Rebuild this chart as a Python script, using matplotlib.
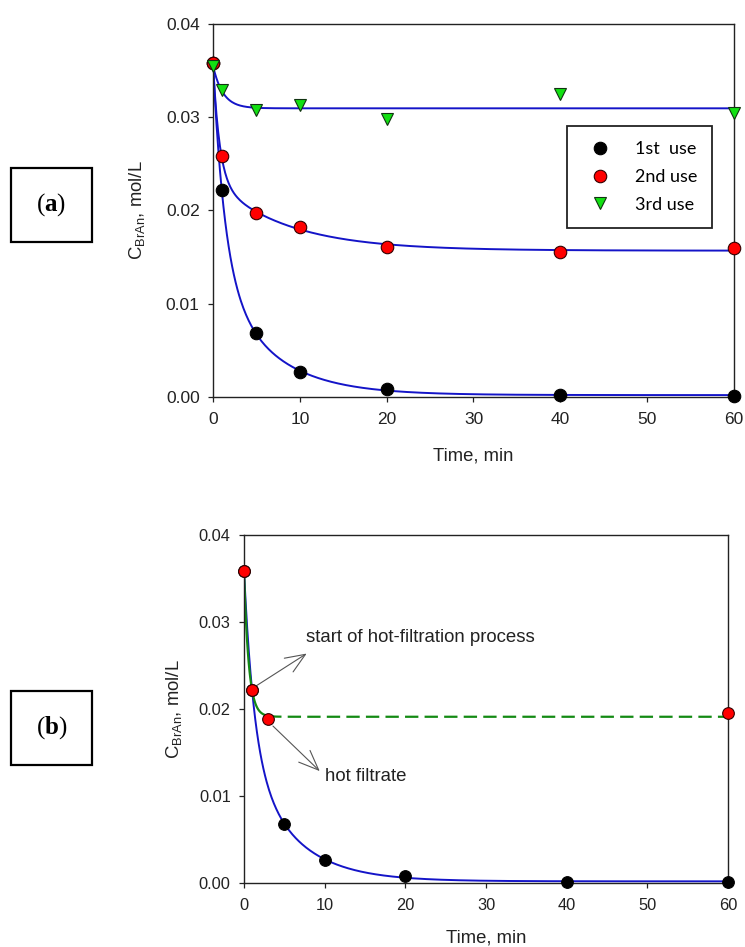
import matplotlib
matplotlib.use("Agg")
import matplotlib.pyplot as plt
import numpy as np
from matplotlib.patches import Rectangle
from matplotlib.ticker import FormatStrFormatter, MultipleLocator

plt.rcParams["font.family"] = ["Liberation Sans", "DejaVu Sans"]
plt.rcParams["mathtext.fontset"] = "custom"
plt.rcParams["mathtext.rm"] = "Liberation Serif"
plt.rcParams["mathtext.bf"] = "Liberation Serif:bold"

# ---- data ----
time_a = [0, 1, 5, 10, 20, 40, 60]
use1 = [0.0358, 0.0222, 0.00684, 0.00267, 0.00089, 0.0002, 0.0001]
use2 = [0.0358, 0.0258, 0.0197, 0.0182, 0.0161, 0.0156, 0.0160]
use3 = [0.0355, 0.0329, 0.0308, 0.0313, 0.0298, 0.0325, 0.0304]

time_b_full = [0, 1, 5, 10, 20, 40, 60]
conv_b = [0.0359, 0.0222, 0.00683, 0.00261, 0.00084, 0.00015, 0.0001]
time_b_hot = [0, 1, 3, 60]
hot_b = [0.0359, 0.0222, 0.0188, 0.0195]

legend_labels = ["1st  use", "2nd use", "3rd use"]
xlabel = "Time, min"
ylabel = r"C$_\mathregular{BrAn}$, mol/L"

BLUE = "#1414C8"
GREEN_LINE = "#138A13"
TRI_GREEN = "#12E012"


def fit_decay(t, y, n_exp):
    """y0 + sum a_i*exp(-k_i t), rates by grid search, amplitudes by least squares."""
    t = np.asarray(t, float)
    y = np.asarray(y, float)
    grid = np.logspace(-2, 1.2, 90)
    best = None
    if n_exp == 1:
        combos = [(k,) for k in grid]
    else:
        combos = [(k1, k2) for i, k1 in enumerate(grid) for k2 in grid[:i]]
    for ks in combos:
        A = np.column_stack([np.ones_like(t)] + [np.exp(-k * t) for k in ks])
        coef, *_ = np.linalg.lstsq(A, y, rcond=None)
        err = np.sum((A @ coef - y) ** 2)
        if best is None or err < best[0]:
            best = (err, ks, coef)
    _, ks, coef = best

    def f(x):
        x = np.asarray(x, float)
        return coef[0] + sum(c * np.exp(-k * x) for c, k in zip(coef[1:], ks))

    return f


def style_axes(ax, tick_size):
    ax.set_xlim(0, 60)
    ax.set_ylim(0, 0.04)
    ax.xaxis.set_major_locator(MultipleLocator(10))
    ax.yaxis.set_major_locator(MultipleLocator(0.01))
    ax.yaxis.set_major_formatter(FormatStrFormatter("%.2f"))
    ax.tick_params(direction="out", length=3.6, width=0.9, top=False, right=False,
                   labelsize=tick_size, colors="#222222")
    ax.tick_params(axis="x", pad=7.5)
    ax.tick_params(axis="y", pad=6)
    for sp in ax.spines.values():
        sp.set_linewidth(1.0)
        sp.set_color("#222222")


fig = plt.figure(figsize=(7.45, 9.47), dpi=100)

# ---------------- panel (a) ----------------
ax1 = fig.add_axes([0.2859, 0.5808, 0.6993, 0.3939])
tt = np.linspace(0, 60, 600)
for ys, n in [(use1, 2), (use2, 2), (use3, 1)]:
    f = fit_decay(time_a, ys, n)
    ax1.plot(tt, f(tt), color=BLUE, lw=1.4, zorder=2)

ax1.plot(time_a, use1, "o", ms=9, mfc="black", mec="black", mew=0.8,
         label=legend_labels[0], clip_on=False, zorder=3)
ax1.plot(time_a, use2, "o", ms=9, mfc="red", mec="#330000", mew=0.8,
         label=legend_labels[1], clip_on=False, zorder=4)
ax1.plot(time_a, use3, "v", ms=9.2, mfc=TRI_GREEN, mec="#113311", mew=0.8,
         label=legend_labels[2], clip_on=False, zorder=5)

style_axes(ax1, 12.5)
ax1.set_xlabel(xlabel, fontsize=13.3, color="#222222")
ax1.set_ylabel(ylabel, fontsize=13.3, color="#222222")
ax1.xaxis.label.set_va("center")
ax1.yaxis.label.set_va("center")
ax1.xaxis.set_label_coords(0.5, -0.157)
ax1.yaxis.set_label_coords(-0.146, 0.5)

leg = ax1.legend(loc="upper left", bbox_to_anchor=(0.6795, 0.7265), borderaxespad=0,
                 fancybox=False, framealpha=1, edgecolor="#222222", borderpad=0.85,
                 handlelength=2.0, handletextpad=0.9, labelspacing=0.65,
                 prop={"family": "Lato", "size": 13})
leg.get_frame().set_linewidth(1.3)

# ---------------- panel (b) ----------------
ax2 = fig.add_axes([0.3275, 0.0676, 0.6497, 0.3675])
f_conv = fit_decay(time_b_full, conv_b, 2)
ax2.plot(tt, f_conv(tt), color=BLUE, lw=1.4, zorder=2)

f_hot = fit_decay(time_b_hot, hot_b, 1)
t_solid = np.linspace(0, 3, 100)
t_dash = np.linspace(3, 60, 300)
ax2.plot(t_solid, f_hot(t_solid), color=GREEN_LINE, lw=1.6, zorder=2.5)
ax2.plot(t_dash, f_hot(t_dash), color=GREEN_LINE, lw=1.6, dashes=(6, 2.8), zorder=2.5)

ax2.plot(time_b_full, conv_b, "o", ms=8.4, mfc="black", mec="black", mew=0.8,
         clip_on=False, zorder=3)
ax2.plot(time_b_hot, hot_b, "o", ms=8.4, mfc="red", mec="#330000", mew=0.8,
         clip_on=False, zorder=4)

arrow_kw = dict(arrowstyle="->,head_length=1.1,head_width=0.45", color="#555555",
                lw=0.8, shrinkA=0, shrinkB=0, mutation_scale=13)
ax2.annotate("", xy=(7.77, 0.02637), xytext=(1.37, 0.02257), arrowprops=arrow_kw)
ax2.annotate("", xy=(9.39, 0.01286), xytext=(3.59, 0.01804), arrowprops=arrow_kw)
ax2.text(7.69, 0.02822, "start of hot-filtration process", fontsize=13.4,
         va="center", ha="left", color="#222222")
ax2.text(10.04, 0.01228, "hot filtrate", fontsize=13.4, va="center", ha="left",
         color="#222222")

style_axes(ax2, 11.8)
ax2.set_xlabel(xlabel, fontsize=13.3, color="#222222")
ax2.set_ylabel(ylabel, fontsize=13.3, color="#222222")
ax2.xaxis.label.set_va("center")
ax2.yaxis.label.set_va("center")
ax2.xaxis.set_label_coords(0.5, -0.158)
ax2.yaxis.set_label_coords(-0.1446, 0.5)

# ---------------- panel tags ----------------
W, H = 745, 947
for label, top in [("a", 168), ("b", 691)]:
    x0, x1, y0, y1 = 11, 92, top, top + 74
    fig.patches.append(Rectangle((x0 / W, 1 - y1 / H), (x1 - x0) / W, (y1 - y0) / H,
                                 transform=fig.transFigure, fill=False,
                                 edgecolor="black", lw=1.6))
    fig.text((x0 + x1) / 2 / W, 1 - (y0 + y1) / 2 / H, rf"($\mathbf{{{label}}}$)",
             family="Liberation Serif", fontsize=18, ha="center", va="center")

fig.savefig("out.png", dpi=100)
